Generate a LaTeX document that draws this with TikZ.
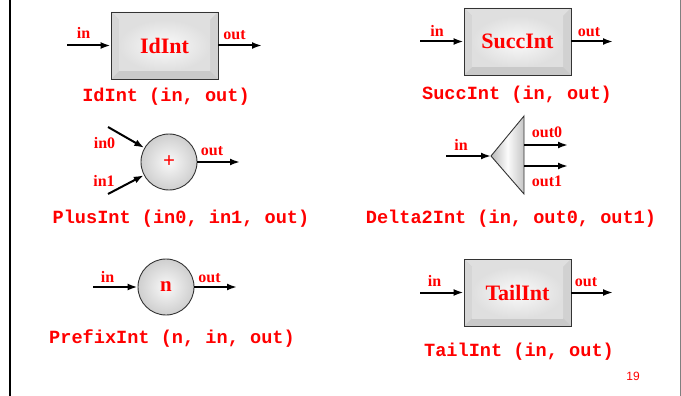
\documentclass[tikz,border=0pt]{standalone}
\usepackage{fontspec}
\setmainfont{Liberation Serif}
\setmonofont{Liberation Mono}
\setsansfont{Liberation Sans}
\usetikzlibrary{arrows.meta}

\tikzset{
  conn/.style={-{Latex[length=10pt,width=7pt]}, line width=2pt, black},
  port/.style={anchor=base, inner sep=0pt, text=red, font=\bfseries\fontsize{16}{16}\selectfont},
  sigtext/.style={anchor=base, inner sep=0pt, text=red, font=\ttfamily\bfseries\fontsize{18.6}{18.6}\selectfont},
  bevelbox/.style={draw=black!80, line width=0.9pt, minimum width=107pt, minimum height=67pt,
    text=red, font=\bfseries\fontsize{22}{22}\selectfont,
    path picture={
      \coordinate (bsw) at (path picture bounding box.south west);
      \coordinate (bne) at (path picture bounding box.north east);
      \coordinate (bnw) at (path picture bounding box.north west);
      \coordinate (bse) at (path picture bounding box.south east);
      \fill[gray!42] (bsw) rectangle (bne);
      \fill[gray!25] (bnw) -- (bne) -- ([shift={(-8pt,-8pt)}]bne) -- ([shift={(8pt,-8pt)}]bnw) -- cycle;
      \fill[gray!32] (bnw) -- (bsw) -- ([shift={(8pt,8pt)}]bsw) -- ([shift={(8pt,-8pt)}]bnw) -- cycle;
      \fill[gray!36] (bne) -- (bse) -- ([shift={(-8pt,8pt)}]bse) -- ([shift={(-8pt,-8pt)}]bne) -- cycle;
      \shade[inner color=gray!4, outer color=gray!25] ([shift={(8pt,8pt)}]bsw) rectangle ([shift={(-8pt,-8pt)}]bne);
    }},
  ballnode/.style={circle, draw=black!80, line width=0.9pt, minimum size=56pt, inner sep=0pt,
    inner color=gray!5, outer color=gray!38, text=red, font=\bfseries\fontsize{21}{21}\selectfont},
}

\begin{document}
\begin{tikzpicture}[x=1pt,y=-1pt]
  \useasboundingbox (0,0) rectangle (681,396);
  \draw[line width=1.3pt] (10,0) -- (10,396);
  \draw[gray, line width=0.9pt] (680,0) -- (680,396);

  % IdInt
  \node[bevelbox] (idint) at (164.5,45.5) {IdInt};
  \coordinate (idin) at (67,45.5);
  \coordinate (idout) at (262,45.5);
  \draw[conn] (idin) -- (idint.west);
  \draw[conn] (idint.east) -- (idout);
  \node[port] (idinlbl) at (83.5,39) {in};
  \node[port] (idoutlbl) at (234.5,40) {out};
  \node[sigtext] (idsig) at (166,102) {IdInt (in, out)};

  % SuccInt
  \node[bevelbox] (succint) at (517.5,41.5) {SuccInt};
  \coordinate (succin) at (420,41.5);
  \coordinate (succout) at (613,41.5);
  \draw[conn] (succin) -- (succint.west);
  \draw[conn] (succint.east) -- (succout);
  \node[port] (succinlbl) at (437,36.5) {in};
  \node[port] (succoutlbl) at (589,37) {out};
  \node[sigtext] (succsig) at (517,100) {SuccInt (in, out)};

  % PlusInt
  \node[ballnode] (plus) at (169,162) {+};
  \coordinate (plusin0) at (108,127);
  \coordinate (plusin1) at (108,194);
  \coordinate (plusout) at (240,162);
  \draw[conn] (plusin0) -- (plus);
  \draw[conn] (plusin1) -- (plus);
  \draw[conn] (plus.east) -- (plusout);
  \node[port] (plusin0lbl) at (104.5,149) {in0};
  \node[port] (plusin1lbl) at (104,186.5) {in1};
  \node[port] (plusoutlbl) at (212,155) {out};
  \node[sigtext] (plussig) at (181,223) {PlusInt (in0, in1, out)};

  % Delta2Int
  \coordinate (dapex) at (491,156);
  \coordinate (dtop) at (524,116);
  \coordinate (dbot) at (524,194);
  \shade[left color=gray!55, right color=gray!45, middle color=gray!3, draw=black!80, line width=0.9pt]
    (dapex) -- (dtop) -- (dbot) -- cycle;
  \coordinate (din) at (446,156);
  \coordinate (dsrc0) at (524,145);
  \coordinate (dsrc1) at (524,166);
  \coordinate (dout0) at (568,145);
  \coordinate (dout1) at (568,166);
  \draw[conn] (din) -- (dapex);
  \draw[conn] (dsrc0) -- (dout0);
  \draw[conn] (dsrc1) -- (dout1);
  \node[port] (dinlbl) at (461,150.5) {in};
  \node[port] (dout0lbl) at (547,138) {out0};
  \node[port] (dout1lbl) at (547,186) {out1};
  \node[sigtext] (dsig) at (511,223) {Delta2Int (in, out0, out1)};

  % PrefixInt
  \node[ballnode] (prefix) at (166,287) {n};
  \coordinate (prefin) at (93,287);
  \coordinate (prefout) at (237,287);
  \draw[conn] (prefin) -- (prefix.west);
  \draw[conn] (prefix.east) -- (prefout);
  \node[port] (prefinlbl) at (107.5,282) {in};
  \node[port] (prefoutlbl) at (209.5,282) {out};
  \node[sigtext] (prefsig) at (172,343) {PrefixInt (n, in, out)};

  % TailInt
  \node[bevelbox] (tailint) at (517.5,292.5) {TailInt};
  \coordinate (tailin) at (420,292.5);
  \coordinate (tailout) at (613,292.5);
  \draw[conn] (tailin) -- (tailint.west);
  \draw[conn] (tailint.east) -- (tailout);
  \node[port] (tailinlbl) at (434.5,286.5) {in};
  \node[port] (tailoutlbl) at (586,286.5) {out};
  \node[sigtext] (tailsig) at (519,356) {TailInt (in, out)};

  \node[anchor=base, inner sep=0pt, text=red, font=\sffamily\fontsize{12}{12}\selectfont] (pagenum) at (633,380) {19};
\end{tikzpicture}
\end{document}
